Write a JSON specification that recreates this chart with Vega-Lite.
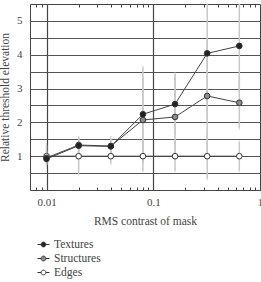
{
  "$schema": "https://vega.github.io/schema/vega-lite/v6.json",
  "width": 230,
  "height": 186,
  "autosize": "none",
  "padding": {"left": 30, "top": 4, "right": 1, "bottom": 92},
  "background": "white",
  "config": {
    "font": "Liberation Serif",
    "view": {"stroke": "#444", "strokeWidth": 1},
    "axis": {"labelFont": "Liberation Serif", "titleFont": "Liberation Serif", "labelColor": "#444", "titleColor": "#444", "titleFontWeight": "normal", "labelFontSize": 11, "titleFontSize": 11.5}
  },
  "resolve": {"axis": {"x": "independent", "y": "independent"}},
  "data": {
    "values": [
      {"series": "Textures", "x": 0.01, "y": 0.92, "lo": 0.75, "hi": 1.15},
      {"series": "Textures", "x": 0.02, "y": 1.31, "lo": 1.1, "hi": 1.5},
      {"series": "Textures", "x": 0.04, "y": 1.29, "lo": 1.05, "hi": 1.5},
      {"series": "Textures", "x": 0.08, "y": 2.24, "lo": 0.86, "hi": 3.62},
      {"series": "Textures", "x": 0.16, "y": 2.54, "lo": 1.64, "hi": 3.44},
      {"series": "Textures", "x": 0.32, "y": 4.04, "lo": 2.1, "hi": 6.2},
      {"series": "Textures", "x": 0.64, "y": 4.26, "lo": 2.93, "hi": 5.6},
      {"series": "Structures", "x": 0.01, "y": 0.95, "lo": 0.8, "hi": 1.1},
      {"series": "Structures", "x": 0.02, "y": 1.33, "lo": 1.15, "hi": 1.54},
      {"series": "Structures", "x": 0.04, "y": 1.3, "lo": 1.1, "hi": 1.54},
      {"series": "Structures", "x": 0.08, "y": 2.07, "lo": 0.82, "hi": 3.32},
      {"series": "Structures", "x": 0.16, "y": 2.16, "lo": 1.0, "hi": 3.32},
      {"series": "Structures", "x": 0.32, "y": 2.78, "lo": 1.13, "hi": 4.43},
      {"series": "Structures", "x": 0.64, "y": 2.58, "lo": 1.84, "hi": 3.32},
      {"series": "Edges", "x": 0.01, "y": 1.0, "lo": 0.73, "hi": 1.33},
      {"series": "Edges", "x": 0.02, "y": 1.0, "lo": 0.48, "hi": 1.54},
      {"series": "Edges", "x": 0.04, "y": 1.0, "lo": 0.78, "hi": 1.22},
      {"series": "Edges", "x": 0.08, "y": 1.0, "lo": 0.58, "hi": 1.41},
      {"series": "Edges", "x": 0.16, "y": 1.0, "lo": 0.58, "hi": 1.44},
      {"series": "Edges", "x": 0.32, "y": 1.0, "lo": 0.33, "hi": 1.67},
      {"series": "Edges", "x": 0.64, "y": 1.0, "lo": 0.58, "hi": 1.41}
    ]
  },
  "layer": [
    {
      "mark": {"type": "rule", "color": "#c8c8c8", "strokeWidth": 1.5, "clip": true},
      "encoding": {
        "x": {"field": "x", "type": "quantitative", "scale": {"type": "log", "domain": [0.007, 1], "nice": false},
          "axis": {"orient": "bottom", "values": [0.008, 0.009, 0.01, 0.02, 0.03, 0.04, 0.05, 0.06, 0.07, 0.08, 0.09, 0.1, 0.2, 0.3, 0.4, 0.5, 0.6, 0.7, 0.8, 0.9, 1],
            "labelExpr": "(datum.value == 0.01 || datum.value == 0.1 || datum.value == 1) ? datum.label : ''",
            "format": "~g", "domain": false, "tickSize": -3, "tickColor": "#444", "labelPadding": 9, "labelFlush": false, "labelOverlap": false,
            "grid": true, "gridColor": "#444", "gridWidth": 1.2,
            "gridOpacity": {"condition": {"test": "datum.value == 0.01 || datum.value == 0.1", "value": 1}, "value": 0},
            "title": "RMS contrast of mask", "titlePadding": 8}},
        "y": {"field": "lo", "type": "quantitative", "scale": {"domain": [0, 5.5], "nice": false},
          "axis": {"values": [0.5, 1, 1.5, 2, 2.5, 3, 3.5, 4, 4.5, 5], "format": "~g", "labelExpr": "datum.value % 1 == 0 ? datum.label : ''",
            "domain": false, "ticks": false, "labelPadding": 8, "grid": true, "gridColor": "#555", "gridWidth": 1,
            "title": "Relative threshold elevation", "titlePadding": 6}},
        "y2": {"field": "hi"}
      }
    },
    {
      "mark": {"type": "tick", "color": "#c8c8c8", "orient": "vertical", "size": 4, "thickness": 1, "clip": true},
      "encoding": {
        "x": {"field": "x", "type": "quantitative",
          "axis": {"orient": "top", "values": [0.008, 0.009, 0.02, 0.03, 0.04, 0.05, 0.06, 0.07, 0.08, 0.09, 0.2, 0.3, 0.4, 0.5, 0.6, 0.7, 0.8, 0.9],
            "labels": false, "domain": false, "tickSize": -3, "tickColor": "#444", "grid": false, "title": null}},
        "y": {"field": "lo", "type": "quantitative", "axis": null}
      }
    },
    {
      "mark": {"type": "tick", "color": "#c8c8c8", "orient": "vertical", "size": 4, "thickness": 1, "clip": true},
      "encoding": {
        "x": {"field": "x", "type": "quantitative", "axis": null},
        "y": {"field": "hi", "type": "quantitative", "axis": null}
      }
    },
    {
      "mark": {"type": "line", "color": "#444", "strokeWidth": 1},
      "encoding": {
        "x": {"field": "x", "type": "quantitative", "axis": null},
        "y": {"field": "y", "type": "quantitative", "axis": null},
        "detail": {"field": "series"}
      }
    },
    {
      "mark": {"type": "point", "filled": true, "shape": "circle", "size": 32, "stroke": "#333", "strokeWidth": 1, "opacity": 1},
      "encoding": {
        "x": {"field": "x", "type": "quantitative", "axis": null},
        "y": {"field": "y", "type": "quantitative", "axis": null},
        "order": {"field": "series", "sort": "ascending"},
        "fill": {"field": "series", "type": "nominal",
          "scale": {"domain": ["Textures", "Structures", "Edges"], "range": ["#222222", "#8c8c8c", "#ffffff"]},
          "legend": {"title": null, "orient": "none", "legendX": 7, "legendY": 234,
            "symbolType": "M-1,0H-0.4M0.4,0H1M0.4,0A0.4,0.4,0,1,1,-0.4,0A0.4,0.4,0,1,1,0.4,0Z",
            "symbolSize": 144, "symbolStrokeColor": "#333", "symbolStrokeWidth": 1, "symbolOpacity": 1,
            "labelFont": "Liberation Serif", "labelFontSize": 11.5, "labelColor": "#444", "labelOffset": 4, "rowPadding": 2}}
      }
    }
  ]
}
